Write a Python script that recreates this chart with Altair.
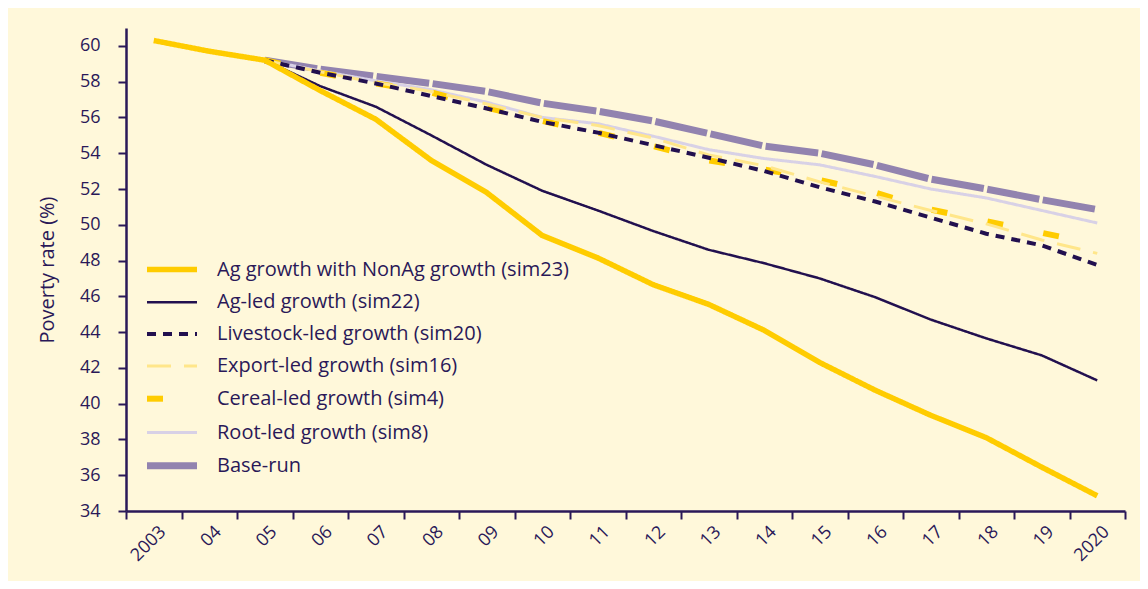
import altair as alt
import pandas as pd

years = ["2003", "04", "05", "06", "07", "08", "09", "10", "11", "12",
         "13", "14", "15", "16", "17", "18", "19", "2020"]

series_names = [
    "Ag growth with NonAg growth (sim23)",
    "Ag-led growth (sim22)",
    "Livestock-led growth (sim20)",
    "Export-led growth (sim16)",
    "Cereal-led growth (sim4)",
    "Root-led growth (sim8)",
    "Base-run",
]

sim23 = [60.3, 59.7, 59.2, 57.5, 55.9, 53.6, 51.8, 49.4, 48.15, 46.65,
         45.55, 44.1, 42.3, 40.75, 39.35, 38.1, 36.45, 34.85]
sim22 = [None, None, 59.2, 57.75, 56.6, 55.0, 53.35, 51.9, 50.8, 49.65,
         48.6, 47.85, 47.0, 45.95, 44.7, 43.65, 42.7, 41.3]
sim20 = [None, None, 59.2, 58.5, 57.9, 57.2, 56.5, 55.75, 55.15, 54.45,
         53.75, 53.0, 52.1, 51.3, 50.4, 49.5, 48.85, 47.75]
sim16 = [None, None, 59.2, 58.55, 57.95, 57.45, 56.75, 56.0, 55.55, 54.85,
         53.9, 53.3, 52.4, 51.6, 50.8, 50.05, 49.15, 48.4]
sim4 = [None, None, 59.2, 58.5, 57.9, 57.4, 56.55, 55.8, 55.15, 54.4,
        53.6, 53.1, 52.5, 51.8, 50.85, 50.2, 49.55, 48.9]
sim8 = [None, None, 59.2, 58.6, 58.05, 57.55, 56.85, 56.0, 55.65, 54.95,
        54.2, 53.7, 53.35, 52.7, 52.0, 51.5, 50.8, 50.1]
base_run = [None, None, 59.2, 58.7, 58.3, 57.9, 57.45, 56.8, 56.35, 55.8,
            55.1, 54.4, 54.0, 53.35, 52.55, 52.0, 51.4, 50.85]

series_values = [sim23, sim22, sim20, sim16, sim4, sim8, base_run]

line_colors = ["#FFCC00", "#22104F", "#22104F", "#FFE68A", "#FFCC00", "#D8D1E6", "#9283AF"]
line_dashes = [[1, 0], [1, 0], [9, 7], [24, 13], [16, 41], [1, 0], [53, 3.5]]
line_widths = [5.5, 2.5, 4, 3, 6, 3, 7]

rows = []
for name, vals in zip(series_names, series_values):
    for yr, v in zip(years, vals):
        if v is not None:
            rows.append({"year": yr, "series": name, "rate": v})
df = pd.DataFrame(rows)

TEXT = "#2A1858"
BG = "#FFF8DA"
FONT = "Open Sans"

x_enc = alt.X(
    "year:N",
    sort=years,
    bandPosition=0.5,
    scale=alt.Scale(type="band", domain=years, paddingInner=0, paddingOuter=0),
    axis=alt.Axis(
        title=None,
        tickBand="extent",
        labelAngle=-45,
        labelAlign="right",
        labelBaseline="middle",
        labelOffset=9,
        labelPadding=10,
        tickSize=8,
        tickWidth=2,
        domainWidth=2.5,
        labelFontSize=18,
        labelFont=FONT,
        labelColor=TEXT,
        tickColor=TEXT,
        domainColor=TEXT,
    ),
)

y_enc = alt.Y(
    "rate:Q",
    scale=alt.Scale(domain=[34, 61], nice=False, zero=False),
    axis=alt.Axis(
        title="Poverty rate (%)",
        values=list(range(34, 61, 2)),
        grid=False,
        tickSize=8,
        tickWidth=2,
        domainWidth=2.5,
        labelPadding=18,
        labelFontSize=18,
        labelFont=FONT,
        labelColor=TEXT,
        tickColor=TEXT,
        domainColor=TEXT,
        titleFont=FONT,
        titleFontSize=20,
        titleFontWeight="normal",
        titleColor=TEXT,
        titlePadding=22,
    ),
)

legend = alt.Legend(
    orient="none",
    legendX=30,
    legendY=226,
    title=None,
    symbolType="M-2,0L2,0",
    symbolSize=625,
    labelFontSize=20,
    labelFont=FONT,
    labelColor=TEXT,
    labelOffset=29,
    rowPadding=7.3,
    labelLimit=500,
)

color_enc = alt.Color("series:N", scale=alt.Scale(domain=series_names, range=line_colors), legend=legend)
dash_enc = alt.StrokeDash("series:N", scale=alt.Scale(domain=series_names, range=line_dashes), legend=legend)
width_enc = alt.StrokeWidth("series:N", scale=alt.Scale(type="ordinal", domain=series_names, range=line_widths), legend=legend)

layers = []
for name in reversed(series_names):
    layers.append(
        alt.Chart(df)
        .transform_filter(alt.datum.series == name)
        .mark_line()
        .encode(x=x_enc, y=y_enc, color=color_enc, strokeDash=dash_enc, strokeWidth=width_enc)
    )

chart = (
    alt.layer(*layers)
    .properties(
        width=999,
        height=483,
        background=BG,
        autosize=alt.AutoSizeParams(type="none"),
        padding={"left": 118, "top": 20, "right": 15, "bottom": 70},
    )
    .configure_view(stroke=None)
)

chart.save("out.html", embed_options={"renderer": "svg", "actions": False})
